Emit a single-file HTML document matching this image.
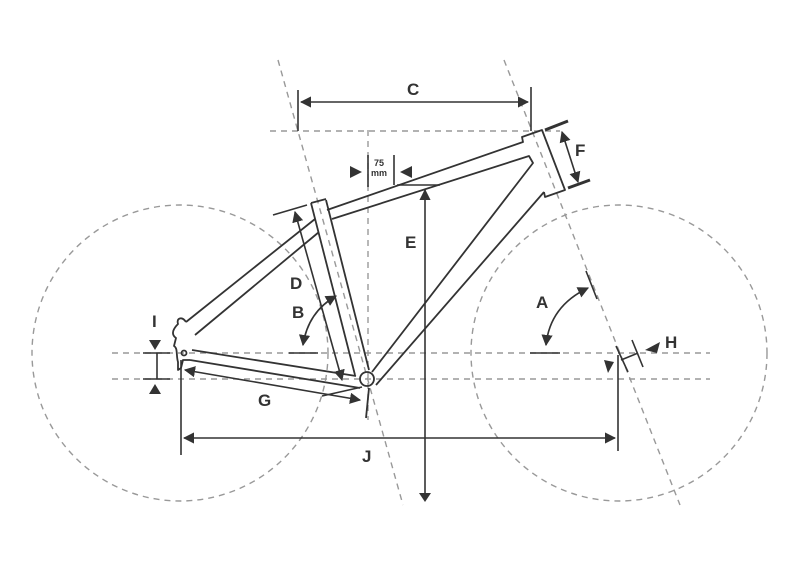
<!DOCTYPE html>
<html><head><style>body{margin:0;background:#fff}svg{display:block}text{font-family:"Liberation Sans",sans-serif;font-weight:bold;fill:#333}</style></head><body>
<svg width="800" height="571" viewBox="0 0 800 571" xmlns="http://www.w3.org/2000/svg">
<defs>
<marker id="ar" viewBox="0 0 10 10" refX="9" refY="5" markerWidth="7" markerHeight="7" orient="auto-start-reverse"><path d="M0,0L10,5L0,10z" fill="#333"/></marker>
</defs>
<g fill="none" stroke="#999" stroke-width="1.4" stroke-dasharray="6,5">
<circle cx="180" cy="353" r="148"/>
<circle cx="619" cy="353" r="148"/>
<line x1="112" y1="353" x2="710" y2="353"/>
<line x1="112" y1="379" x2="710" y2="379"/>
<line x1="270" y1="131" x2="560" y2="131"/>
<line x1="278" y1="60" x2="403" y2="505"/>
<line x1="504" y1="60" x2="680" y2="505"/>
<line x1="368" y1="130" x2="368" y2="420"/>
</g>
<g fill="none" stroke="#333" stroke-width="1.8" stroke-linejoin="round">
<path d="M311,203 L355,375"/>
<path d="M326,200 L369,370"/>
<path d="M311,203 L326,199"/>
<path d="M327,210 L523,142 L522,137 L542,130 L565,190 L545,197 L544,192"/>
<path d="M332,219 L529,156 L533,163 L372,372"/>
<path d="M544,192 L376,385"/>
<path d="M315,219 L186,322"/>
<path d="M319,232 L195,335"/>
<path d="M192,350 L356,376"/>
<path d="M190,360 L360,388"/>
<path d="M186,322 C182,316 176,318 178,324 C174,328 170,334 176,338 L174,346 C178,348 176,356 178,362 L178,370 L181,368 L183,360 L190,360"/>
<circle cx="184" cy="353" r="2.5"/>
<circle cx="367" cy="379" r="7"/>
<path d="M369,388 L366,418"/>
</g>
<g fill="none" stroke="#333" stroke-width="1.6">
<line x1="298" y1="90" x2="298" y2="131"/>
<line x1="531" y1="87" x2="531" y2="131"/>
<line x1="301" y1="102" x2="528" y2="102" marker-start="url(#ar)" marker-end="url(#ar)"/>
<line x1="545" y1="130" x2="568" y2="121" stroke-width="3"/>
<line x1="568" y1="188" x2="590" y2="180" stroke-width="3"/>
<line x1="562" y1="132" x2="578" y2="182" marker-start="url(#ar)" marker-end="url(#ar)"/>
<line x1="368" y1="155" x2="368" y2="187"/>
<line x1="394" y1="155" x2="394" y2="185"/>
<line x1="397" y1="185" x2="440" y2="185"/>
<line x1="425" y1="500" x2="425" y2="190" marker-end="url(#ar)"/>
<line x1="273" y1="215" x2="307" y2="205"/>
<line x1="295" y1="212" x2="342" y2="380" marker-start="url(#ar)" marker-end="url(#ar)"/>
<line x1="289" y1="353" x2="318" y2="353"/>
<path d="M303,345 Q308,312 336,296" marker-start="url(#ar)" marker-end="url(#ar)"/>
<line x1="530" y1="353" x2="560" y2="353"/>
<line x1="586" y1="271" x2="597" y2="299"/>
<path d="M546,345 Q550,306 588,288" marker-start="url(#ar)" marker-end="url(#ar)"/>
<line x1="616" y1="346" x2="628" y2="372"/>
<line x1="632" y1="340" x2="643" y2="367"/>
<line x1="621" y1="360" x2="638" y2="353"/>
<line x1="143" y1="353" x2="170" y2="353"/>
<line x1="143" y1="379" x2="170" y2="379"/>
<line x1="157" y1="353" x2="157" y2="379"/>
<line x1="185" y1="370" x2="360" y2="400" marker-start="url(#ar)" marker-end="url(#ar)"/>
<line x1="322" y1="396" x2="362" y2="387"/>
<line x1="181" y1="360" x2="181" y2="455"/>
<line x1="618" y1="355" x2="618" y2="451"/>
<line x1="184" y1="438" x2="615" y2="438" marker-start="url(#ar)" marker-end="url(#ar)"/>
</g>
<g fill="#333">
<path d="M419,493 L431,493 L425,502z"/>
<path d="M350,166 L362,172 L350,178z"/>
<path d="M412,166 L400,172 L412,178z"/>
<path d="M149,340 L161,340 L155,350z"/>
<path d="M149,394 L161,394 L155,384z"/>
<path d="M604,360 L614,362 L608,373z"/>
<path d="M660,342 L645,350 L657,353z"/>
</g>
<g font-size="17">
<text x="407" y="95">C</text>
<text x="575" y="156">F</text>
<text x="405" y="248">E</text>
<text x="290" y="289">D</text>
<text x="292" y="318">B</text>
<text x="536" y="308">A</text>
<text x="665" y="348">H</text>
<text x="152" y="327">I</text>
<text x="258" y="406">G</text>
<text x="362" y="462">J</text>
</g>
<text x="374" y="166" font-size="9" font-weight="normal">75</text>
<text x="371" y="176" font-size="9" font-weight="normal">mm</text>
</svg>
</body></html>
